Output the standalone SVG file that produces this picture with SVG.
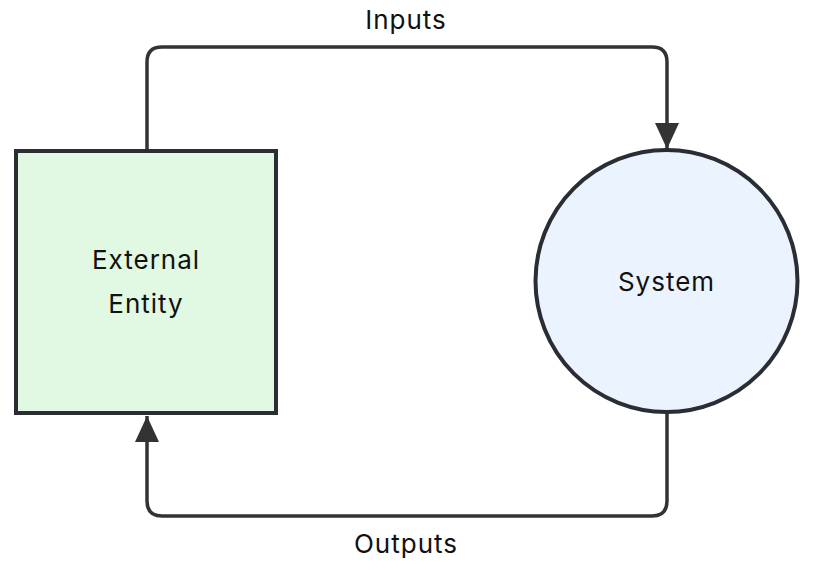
<svg xmlns="http://www.w3.org/2000/svg" width="814" height="570" viewBox="0 0 814 570">
<style>
.lbl{font-family:Inter,"Noto Sans",sans-serif;font-size:26px;letter-spacing:1px;fill:#111;text-anchor:middle}
.edge{fill:none;stroke:#333;stroke-width:3.5}
.node{stroke:#2a2d33;stroke-width:4}
</style>
<defs>
<marker id="arr" markerWidth="26" markerHeight="24" refX="26" refY="12" orient="auto" markerUnits="userSpaceOnUse" viewBox="0 0 26 24">
<path d="M0,0 L26,12 L0,24 Z" fill="#333"/>
</marker>
</defs>
<rect width="814" height="570" fill="#fff"/>
<g id="connectors">
<path class="edge" d="M147,149 V62 Q147,47 162,47 H652 Q667,47 667,62 V149" marker-end="url(#arr)"/>
<path class="edge" d="M667,413 V501 Q667,516 652,516 H162 Q147,516 147,501 V416" marker-end="url(#arr)"/>
<text class="lbl" x="406" y="29">Inputs</text>
<text class="lbl" x="406" y="553">Outputs</text>
</g>
<g id="external-entity">
<rect class="node" x="16" y="151" width="260" height="262" fill="#e1f8e2"/>
<text class="lbl" x="146" y="269">External</text>
<text class="lbl" x="146" y="313">Entity</text>
</g>
<g id="system">
<circle class="node" cx="666.5" cy="281" r="131" fill="#ebf4fe"/>
<text class="lbl" x="666.5" y="291">System</text>
</g>
</svg>
